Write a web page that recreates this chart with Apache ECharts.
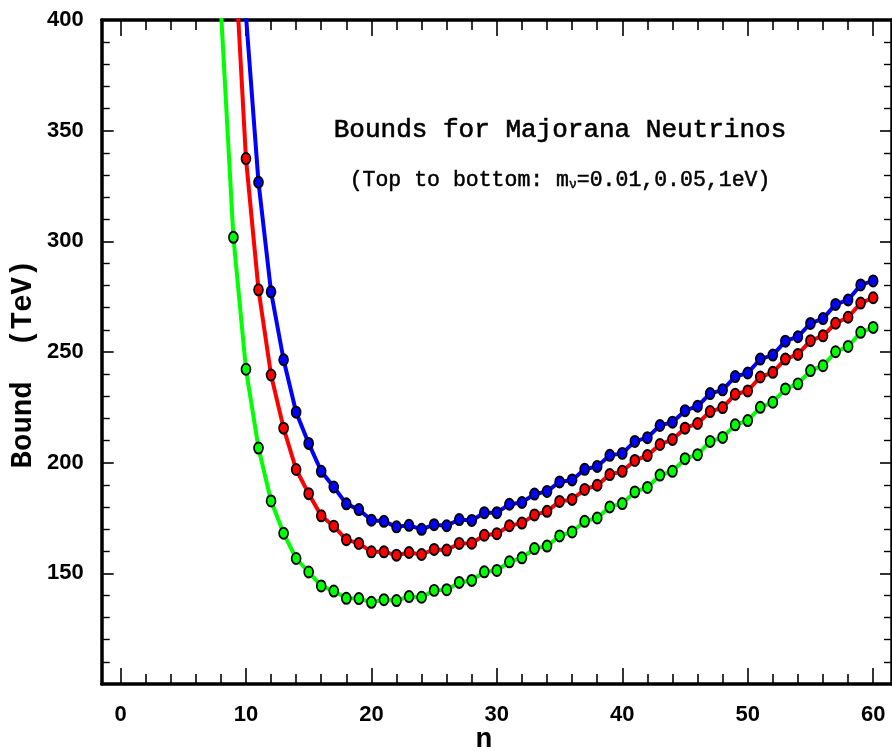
<!DOCTYPE html>
<html>
<head>
<meta charset="utf-8">
<script src="https://cdn.jsdelivr.net/npm/echarts@6/dist/echarts.min.js"></script>
<style>html,body{margin:0;padding:0;background:#fff}#c{width:892px;height:751px}</style>
</head>
<body>
<div id="c"></div>
<script>
const nValues = [8,9,10,11,12,13,14,15,16,17,18,19,20,21,22,23,24,25,26,27,28,29,30,31,32,33,34,35,36,37,38,39,40,41,42,43,44,45,46,47,48,49,50,51,52,53,54,55,56,57,58,59,60];
const blueValues = [null,null,402,326.7,277.2,246.5,222.8,208.7,196.1,189.0,181.4,178.8,174.0,173.5,171.0,171.7,169.9,172.0,171.5,174.3,173.9,177.4,177.4,181.2,182.0,185.8,187.0,191.3,192.2,197.0,198.3,203.3,204.2,209.6,211.3,216.8,218.3,223.5,225.5,231.2,232.9,238.9,240.5,246.8,248.6,254.9,256.9,262.9,265.1,271.5,273.5,280.3,282.1];
const redValues = [null,441,337.4,278.1,239.6,215.6,196.9,186.0,176.0,171.3,165.2,163.5,159.7,159.7,158.2,159.4,158.5,160.8,160.5,163.5,163.6,167.2,167.9,171.5,172.7,176.4,178.0,182.5,183.4,187.9,189.8,194.6,196.1,201.0,203.2,208.2,210.5,215.6,217.7,223.1,224.9,230.9,232.4,238.7,240.8,246.8,248.9,255.1,257.3,263.0,265.7,272.1,274.5];
const greenValues = [405,301.8,242.2,206.6,182.7,168.1,156.7,150.6,144.3,142.0,138.7,138.6,136.9,138.1,137.7,139.5,139.2,142.3,142.6,145.9,146.8,150.7,151.3,155.2,157.0,161.2,162.3,166.9,168.7,173.5,175.0,180.0,181.5,186.8,188.8,194.4,196.1,201.8,203.6,209.6,211.4,217.1,219.0,225.0,227.3,233.3,235.6,241.6,243.8,250.1,252.5,258.9,261.1];
const xMajorTicks = [0,10,20,30,40,50,60];
const xMinorTicks = [2,4,6,8,12,14,16,18,22,24,26,28,32,34,36,38,42,44,46,48,52,54,56,58];
const yHiddenLabel = 100;

const chart = echarts.init(document.getElementById('c'), null, {renderer: 'canvas'});
const labelFont = {fontFamily: 'Liberation Sans', fontWeight: 'bold', fontSize: 22, color: '#000'};
const X_MIN = -1.5, X_MAX = 61.5;

function xAxisDef(pos, ticks, len, showLine, showLabel) {
  return {
    type: 'value', position: pos, min: X_MIN, max: X_MAX, gridIndex: 0,
    axisLine: {show: showLine, onZero: false, lineStyle: {color: '#000', width: 3.5}},
    axisTick: {show: true, inside: true, length: len, customValues: ticks, lineStyle: {color: '#000', width: 1.6}},
    axisLabel: showLabel ? Object.assign({show: true, margin: 20, customValues: ticks}, labelFont) : {show: false},
    splitLine: {show: false}
  };
}
function yAxisDef(pos, showLabel) {
  return {
    type: 'value', position: pos, min: 100, max: 400, interval: 50,
    axisLine: {show: true, onZero: false, lineStyle: {color: '#000', width: 3.5}},
    axisTick: {show: true, inside: true, length: 12, lineStyle: {color: '#000', width: 1.6}},
    minorTick: {show: true, splitNumber: 5, length: 8, lineStyle: {color: '#000', width: 1.4}},
    axisLabel: showLabel ? Object.assign({show: true, margin: 18, formatter: v => v === yHiddenLabel ? '' : String(v)}, labelFont) : {show: false},
    splitLine: {show: false}, minorSplitLine: {show: false}
  };
}
function mkSeries(name, color, vals) {
  return {
    name: name, type: 'line', xAxisIndex: 0, yAxisIndex: 0,
    data: nValues.map((n, i) => [n, vals[i]]).filter(d => d[1] !== null),
    symbol: 'circle', symbolSize: [9, 11], showSymbol: true, clip: true,
    lineStyle: {color: color, width: 4},
    itemStyle: {color: color, borderColor: '#000', borderWidth: 1.8},
    z: 3, animation: false
  };
}

chart.setOption({
  animation: false,
  backgroundColor: '#fff',
  grid: {left: 101.7, top: 20, width: 793.2, height: 664, containLabel: false},
  xAxis: [
    xAxisDef('bottom', xMajorTicks, 16, true, true),
    xAxisDef('bottom', xMinorTicks, 10, false, false),
    xAxisDef('top', xMajorTicks, 16, true, false),
    xAxisDef('top', xMinorTicks, 10, false, false)
  ],
  yAxis: [yAxisDef('left', true), yAxisDef('right', false)],
  series: [
    mkSeries('m=0.01', '#0000ff', blueValues),
    mkSeries('m=0.05', '#ff0000', redValues),
    mkSeries('m=1', '#00ff00', greenValues)
  ],
  graphic: [
    {type: 'text', x: 560, y: 130, style: {text: 'Bounds for Majorana Neutrinos', font: '26px "Liberation Mono"', fill: '#000', stroke: '#000', lineWidth: 0.6, textAlign: 'center', textVerticalAlign: 'middle'}},
    {type: 'text', x: 560, y: 180, style: {
      text: '{a|(Top to bottom: m}{s|ν}{a|=0.01,0.05,1eV)}',
      fill: '#000', stroke: '#000', lineWidth: 0.5, textAlign: 'center', textVerticalAlign: 'middle',
      rich: {
        a: {fontFamily: 'Liberation Mono', fontSize: 21.5, fill: '#000', color: '#000'},
        s: {fontFamily: 'Liberation Mono', fontSize: 13, fill: '#000', color: '#000', padding: [9, 0, 0, 0]}
      }
    }},
    {type: 'text', x: 484, y: 740, style: {text: 'n', font: 'bold 28px "Liberation Mono"', fill: '#000', textAlign: 'center', textVerticalAlign: 'middle'}},
    {type: 'text', x: 24, y: 364, rotation: Math.PI / 2, style: {text: 'Bound  (TeV)', font: 'bold 29px "Liberation Mono"', fill: '#000', textAlign: 'center', textVerticalAlign: 'middle'}}
  ]
});
</script>
</body>
</html>
